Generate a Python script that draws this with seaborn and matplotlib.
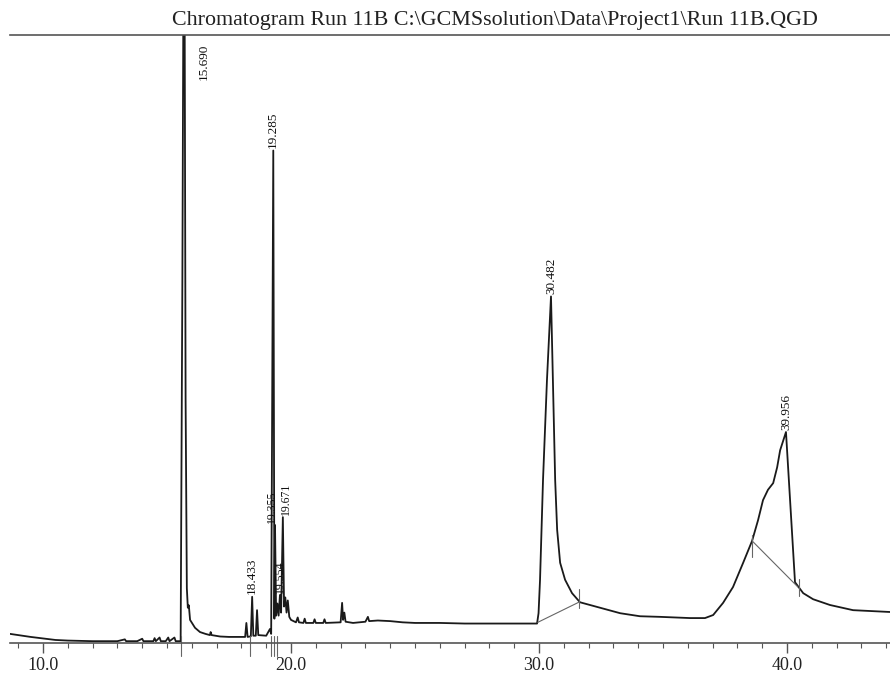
import matplotlib
matplotlib.use("Agg")
import matplotlib.pyplot as plt
import seaborn as sns
import pandas as pd
import numpy as np

# ---------------- data ----------------
title_text = r"Chromatogram Run 11B C:\GCMSsolution\Data\Project1\Run 11B.QGD"

ret_time = [
    8.67, 9.0, 9.5, 10.0, 10.5, 11.0, 11.5, 12.0, 12.5, 13.0, 13.3, 13.35, 13.8,
    14.0, 14.05, 14.45, 14.5, 14.55, 14.7, 14.75, 14.95, 15.05, 15.1, 15.3, 15.35,
    15.55, 15.62, 15.69, 15.75, 15.80, 15.84, 15.88, 15.93, 16.13, 16.33, 16.55,
    16.73, 16.76, 16.8, 17.14, 17.5, 18.0, 18.15, 18.2, 18.25, 18.38, 18.433,
    18.48, 18.58, 18.63, 18.68, 19.0, 19.15, 19.2, 19.285, 19.33, 19.355, 19.40,
    19.45, 19.50, 19.554, 19.60, 19.671, 19.72, 19.77, 19.82, 19.87, 19.93,
    20.0, 20.1, 20.2, 20.27, 20.32, 20.5, 20.55, 20.6, 20.9, 20.95, 21.0, 21.3,
    21.35, 21.4, 22.0, 22.06, 22.1, 22.15, 22.2, 22.5, 23.0, 23.1, 23.15, 23.5,
    24.0, 24.5, 25.0, 26.0, 27.0, 28.0, 29.0, 29.92,
    29.98, 30.04, 30.16, 30.32, 30.482, 30.56, 30.65, 30.73, 30.85, 31.05,
    31.33, 31.65, 32.46, 33.27, 34.07, 34.88, 36.09, 36.69, 37.02, 37.42,
    37.82, 38.23, 38.59, 38.83, 39.03, 39.23, 39.44, 39.60, 39.72, 39.956,
    40.32, 40.65, 41.05, 41.73, 42.66, 44.15,
]
intensity = [
    1.5, 1.3, 1.0, 0.75, 0.5, 0.4, 0.35, 0.3, 0.3, 0.3, 0.6, 0.3, 0.3,
    0.7, 0.3, 0.3, 0.8, 0.3, 0.9, 0.3, 0.3, 0.9, 0.3, 0.9, 0.3,
    0.3, 60.0, 140.0, 40.0, 9.0, 5.8, 6.2, 3.8, 2.5, 1.8, 1.5,
    1.3, 1.8, 1.3, 1.07, 1.0, 1.0, 1.0, 3.3, 1.0, 1.1, 7.6,
    1.2, 1.2, 5.4, 1.3, 1.2, 2.3, 1.5, 81.0, 4.0, 19.4, 4.5,
    6.5, 4.5, 7.9, 5.0, 20.7, 6.0, 7.5, 5.0, 7.0, 4.3,
    3.8, 3.6, 3.4, 4.2, 3.4, 3.3, 4.0, 3.3, 3.3, 3.9, 3.3, 3.3,
    3.9, 3.3, 3.4, 6.6, 3.8, 5.0, 3.5, 3.3, 3.5, 4.3, 3.6, 3.7,
    3.6, 3.4, 3.3, 3.3, 3.2, 3.2, 3.2, 3.2,
    4.9, 10.4, 26.8, 43.3, 57.0, 43.3, 26.8, 18.6, 13.2, 10.4,
    8.2, 6.7, 5.8, 4.9, 4.4, 4.3, 4.1, 4.1, 4.6, 6.6,
    9.2, 13.2, 16.8, 20.2, 23.5, 25.2, 26.3, 28.9, 31.7, 34.7,
    10.0, 8.2, 7.2, 6.25, 5.4, 5.1,
]

peak_times = [15.690, 18.433, 19.285, 19.355, 19.554, 19.671, 30.482, 39.956]
peak_labels = ["15.690", "18.433", "19.285", "19.355", "19.554", "19.671", "30.482", "39.956"]
peak_tops = [98.5, 7.6, 81.0, 19.4, 7.9, 20.7, 57.0, 34.7]
label_shift = [0.8, 0.0, 0.0, -0.12, 0.0, 0.12, 0.0, 0.0]

# integration baselines drawn by the software
base1_t = [29.95, 31.6]
base1_v = [3.4, 6.7]
base2_t = [38.59, 40.44]
base2_v = [16.8, 9.2]
marker_t = [31.6, 38.59, 40.5]
marker_lo = [5.8, 14.2, 7.8]
marker_hi = [8.8, 17.8, 10.6]
axis_marker_t = [15.55, 18.35, 19.2, 19.3, 19.45]

tick_major = [10, 20, 30, 40]
tick_labels = ["10.0", "20.0", "30.0", "40.0"]

# ---------------- figure ----------------
sns.set_theme(style="white")
plt.rcParams["font.family"] = ["Liberation Serif", "DejaVu Serif"]

fig = plt.figure(figsize=(8.9, 6.76), dpi=100)
ax = fig.add_axes([10 / 890, 33 / 676, 880 / 890, 608 / 676])

df = pd.DataFrame({"t": ret_time, "v": intensity})
sns.lineplot(data=df, x="t", y="v", ax=ax, color="#1a1a1a", linewidth=1.3,
             estimator=None, sort=False)

ax.plot(base1_t, base1_v, color="#666666", linewidth=0.8)
ax.plot(base2_t, base2_v, color="#666666", linewidth=0.8)
for t, lo, hi in zip(marker_t, marker_lo, marker_hi):
    ax.plot([t, t], [lo, hi], color="#666666", linewidth=0.8)
for t in axis_marker_t:
    ax.plot([t, t], [-2.2, 1.2], color="#666666", linewidth=0.8, clip_on=False)

for t, lab, top, dx in zip(peak_times, peak_labels, peak_tops, label_shift):
    if lab == "15.690":
        ax.text(t + dx, top, lab, rotation=90, ha="center", va="top",
                fontsize=9.5, color="#111111")
    else:
        fs = 8.5 if lab in ("19.355", "19.671", "19.554") else 9.5
        ax.text(t + dx, top + 0.4, lab, rotation=90, ha="center", va="bottom",
                fontsize=fs, color="#111111")

ax.set_xlim(8.67, 44.15)
ax.set_ylim(0, 100)
ax.set_xlabel("")
ax.set_ylabel("")
ax.set_yticks([])
ax.set_xticks(tick_major)
ax.set_xticklabels(tick_labels)
ax.set_xticks(np.arange(9, 45, 1), minor=True)
ax.tick_params(axis="x", which="major", direction="out", length=7, width=1.0,
               color="#555555", labelsize=13, pad=3, labelcolor="#222222",
               bottom=True)
ax.tick_params(axis="x", which="minor", direction="out", length=3.5, width=0.8,
               color="#555555", bottom=True)
for side in ["left", "right"]:
    ax.spines[side].set_visible(False)
for side in ["top", "bottom"]:
    ax.spines[side].set_visible(True)
    ax.spines[side].set_color("#555555")
    ax.spines[side].set_linewidth(1.2)

fig.text(495 / 890, 1 - 20 / 676, title_text, ha="center", va="center",
         fontsize=15.8, color="#222222")

fig.savefig("out.png", dpi=100)
